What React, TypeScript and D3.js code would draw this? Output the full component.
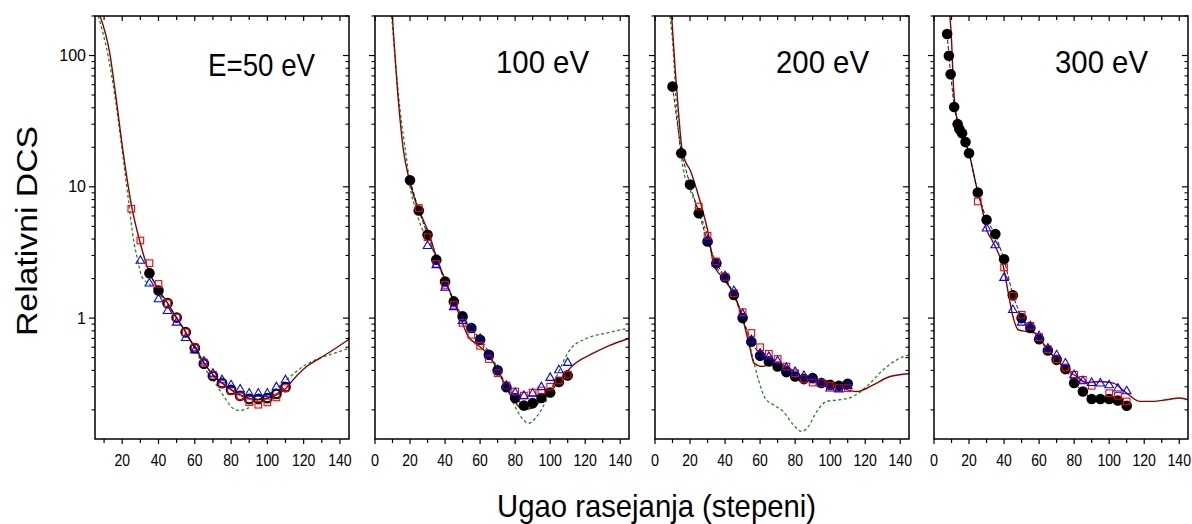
import React from 'react';
import * as d3 from 'd3';

type P = [number, number];

// ---------- data ----------
const panelLabels = ['E=50 eV', '100 eV', '200 eV', '300 eV'];
const xDomains: P[] = [[5, 145], [0, 145], [0, 145], [0, 145]];
const xTickValuesFirst = [10, 20, 30, 40, 50, 60, 70, 80, 90, 100, 110, 120, 130, 140];
const xTickValuesOther = [0, 10, 20, 30, 40, 50, 60, 70, 80, 90, 100, 110, 120, 130, 140];
const xLabelValuesFirst = [20, 40, 60, 80, 100, 120, 140];
const xLabelValuesOther = [0, 20, 40, 60, 80, 100, 120, 140];
const yDomain: P = [0.12, 200];
const yMajorTicks = [1, 10, 100];
const yTickLabels = ['1', '10', '100'];
const xTitle = 'Ugao rasejanja (stepeni)';
const yTitle = 'Relativni DCS';

// 50 eV
const e50Circles: P[] = [[35, 2.2], [40, 1.62], [45, 1.3], [50, 1.01], [55, 0.78], [60, 0.59], [65, 0.45], [70, 0.363], [75, 0.32], [80, 0.284], [85, 0.256], [90, 0.242], [95, 0.242], [100, 0.246], [105, 0.265], [110, 0.298]];
const e50Squares: P[] = [[25, 6.8], [30, 3.9], [35, 2.62], [40, 1.82], [45, 1.3], [50, 1.01], [55, 0.78], [60, 0.6], [65, 0.46], [70, 0.37], [75, 0.316], [80, 0.279], [85, 0.253], [90, 0.229], [95, 0.219], [100, 0.228], [105, 0.249], [110, 0.293]];
const e50Triangles: P[] = [[30, 2.75], [35, 1.85], [40, 1.4], [45, 1.14], [50, 0.93], [55, 0.71], [60, 0.57], [65, 0.47], [70, 0.38], [75, 0.339], [80, 0.31], [85, 0.288], [90, 0.268], [95, 0.268], [100, 0.268], [105, 0.3], [110, 0.339]];
const e50Solid: P[] = [[7.8, 200], [13.3, 101], [16, 55], [20.6, 18], [25.2, 7.1], [29.8, 3.8], [34.5, 2.3], [40, 1.65], [45, 1.3], [50, 1.0], [55, 0.78], [60, 0.6], [65, 0.46], [70, 0.37], [75, 0.32], [80, 0.285], [85, 0.26], [90, 0.245], [95, 0.24], [100, 0.245], [105, 0.26], [110, 0.29], [114.3, 0.34], [121, 0.42], [129, 0.496], [136.4, 0.574], [145, 0.69]];
const e50Dashed: P[] = [[6.8, 200], [12.3, 98], [16, 48.7], [19.7, 20.3], [23.4, 8], [26.3, 3.9], [28.1, 2.94], [30.8, 2.07], [35.4, 1.8], [40, 1.55], [45, 1.27], [50, 1.0], [55, 0.77], [60, 0.59], [64.3, 0.44], [70, 0.34], [75.5, 0.26], [81, 0.206], [84.7, 0.198], [89.3, 0.206], [93.9, 0.232], [101.6, 0.268], [110.7, 0.34], [119.9, 0.43], [129, 0.496], [137, 0.54], [145, 0.59]];

// 100 eV
const e100Circles: P[] = [[20, 11.2], [25, 6.6], [30, 4.31], [35, 2.78], [40, 1.9], [45, 1.34], [50, 1.03], [55, 0.84], [60, 0.684], [65, 0.525], [70, 0.4], [75, 0.298], [80, 0.246], [85, 0.216], [90, 0.225], [95, 0.246], [100, 0.271], [105, 0.326], [110, 0.366]];
const e100Squares: P[] = [[25, 6.9], [30, 4.14], [35, 2.59], [40, 1.79], [45, 1.26], [50, 0.92], [55, 0.746], [60, 0.615], [65, 0.488], [70, 0.381], [75, 0.307], [80, 0.276], [85, 0.257], [90, 0.271], [95, 0.281], [100, 0.3], [105, 0.335], [110, 0.37]];
const e100Triangles: P[] = [[30, 3.57], [35, 2.55], [40, 1.72], [45, 1.22], [50, 0.96], [55, 0.84], [60, 0.7], [65, 0.525], [70, 0.404], [75, 0.307], [80, 0.271], [85, 0.257], [90, 0.268], [95, 0.3], [100, 0.353], [105, 0.404], [110, 0.459]];
const e100Solid: P[] = [[9.9, 200], [13.3, 46], [16.2, 19.1], [19.6, 11.3], [22.8, 7.96], [26.7, 5.94], [31.4, 4.18], [35.2, 2.86], [40, 1.96], [45.1, 1.34], [48.5, 1.03], [53.3, 0.72], [57.1, 0.645], [60.9, 0.59], [64.7, 0.525], [69.5, 0.416], [74.2, 0.31], [79, 0.239], [84.7, 0.2], [89.4, 0.206], [95.1, 0.239], [100, 0.276], [105.7, 0.34], [113.2, 0.44], [124.6, 0.54], [134, 0.62], [145, 0.7]];
const e100Dashed: P[] = [[9.5, 200], [14.3, 38.5], [18.1, 16], [20, 10], [22.8, 7.08], [26.7, 4.85], [30, 4.1], [32.4, 3.7], [34.8, 2.95], [40, 1.96], [48.5, 1.06], [54, 0.85], [60, 0.7], [67.5, 0.48], [73.3, 0.34], [79, 0.225], [84.7, 0.168], [87.5, 0.158], [92.3, 0.178], [98, 0.239], [103.7, 0.36], [111.3, 0.574], [120.8, 0.7], [132.2, 0.77], [145, 0.84]];

// 200 eV
const e200Circles: P[] = [[10, 58], [15, 18], [20, 10.4], [25, 6.3], [30, 3.83], [35, 2.62], [40, 2.04], [45, 1.5], [50, 1.0], [55, 0.66], [60, 0.516], [65, 0.468], [70, 0.428], [75, 0.388], [80, 0.359], [85, 0.343], [90, 0.349], [95, 0.32], [100, 0.31], [105, 0.305], [110, 0.316]];
const e200Squares: P[] = [[25, 7.08], [30, 4.24], [35, 2.7], [40, 2.06], [45, 1.55], [50, 1.11], [55, 0.77], [60, 0.6], [65, 0.535], [70, 0.488], [75, 0.428], [80, 0.38], [85, 0.343], [90, 0.323], [95, 0.32], [100, 0.306], [105, 0.293], [110, 0.293]];
const e200Triangles: P[] = [[30, 3.95], [35, 2.62], [40, 2.1], [45, 1.62], [50, 1.08], [55, 0.684], [60, 0.54], [65, 0.51], [70, 0.473], [75, 0.42], [80, 0.392], [85, 0.365], [90, 0.349], [95, 0.32], [100, 0.293], [105, 0.288], [110, 0.306]];
const e200Solid: P[] = [[9.5, 200], [11.4, 82.5], [13.3, 38.6], [15.2, 20.3], [17, 16], [20, 13.5], [23.8, 9.5], [27.6, 6.3], [30.4, 4.44], [33.3, 2.62], [37.1, 2.14], [40.9, 1.85], [44.7, 1.55], [49.2, 1.09], [54, 0.61], [56.5, 0.454], [60.9, 0.428], [67.5, 0.454], [75.2, 0.428], [82.8, 0.359], [90.4, 0.339], [99.9, 0.329], [107.5, 0.293], [115.1, 0.276], [124.6, 0.31], [134.1, 0.359], [145, 0.377]];
const e200Dashed: P[] = [[8.6, 200], [10.4, 110], [12, 46], [13.9, 22.8], [16.2, 13.5], [20, 9.5], [24.7, 6.7], [29.5, 4.44], [34.2, 2.62], [40, 2.02], [44.7, 1.55], [50.4, 0.97], [55.2, 0.54], [59, 0.34], [62.8, 0.246], [67.5, 0.219], [73.3, 0.194], [79, 0.154], [83.8, 0.137], [87.5, 0.149], [92.3, 0.194], [98, 0.232], [105.6, 0.239], [113.2, 0.253], [120.8, 0.301], [130.3, 0.404], [137.9, 0.48], [145, 0.525]];

// 300 eV
const e300Circles: P[] = [[7.5, 146], [8.5, 99.5], [9.5, 72], [11.5, 40.5], [13.5, 30], [14.5, 27.5], [16, 25.6], [18, 21.9], [20, 18], [25, 9.05], [30, 5.6], [35, 4.37], [40, 2.81], [45, 1.49], [50, 1.0], [55, 0.84], [60, 0.69], [65, 0.567], [70, 0.481], [75, 0.409], [80, 0.32], [85, 0.276], [90, 0.242], [95, 0.242], [100, 0.242], [105, 0.236], [110, 0.215]];
const e300Squares: P[] = [[25, 7.73], [40, 2.43], [45, 1.48], [50, 1.06], [55, 0.874], [60, 0.716], [65, 0.58], [70, 0.487], [75, 0.42], [80, 0.37], [85, 0.339], [90, 0.305], [100, 0.268], [105, 0.256], [110, 0.232]];
const e300Triangles: P[] = [[30, 4.85], [35, 3.61], [40, 2.04], [45, 1.16], [50, 0.93], [55, 0.874], [60, 0.733], [65, 0.59], [70, 0.525], [75, 0.454], [80, 0.37], [85, 0.333], [90, 0.323], [95, 0.32], [100, 0.31], [105, 0.293], [110, 0.279]];
const e300Solid: P[] = [[9.1, 200], [10.1, 124], [11, 61.6], [12, 40.9], [13.9, 30.5], [16.8, 24.2], [20.5, 17], [24.3, 10], [27.2, 7.08], [30.1, 4.7], [33, 3.95], [36.7, 3.13], [39.6, 2.47], [42.4, 1.55], [45.3, 1.0], [48.1, 0.815], [52.9, 0.79], [57.6, 0.77], [64.3, 0.59], [70, 0.481], [75.7, 0.404], [81.4, 0.359], [87.1, 0.323], [94.8, 0.329], [102.4, 0.32], [110, 0.268], [117.6, 0.232], [125.2, 0.232], [132.8, 0.239], [140.4, 0.246], [145, 0.239]];
const e300Dashed: P[] = [];

// ---------- layout ----------
const W = 1192;
const H = 524;
const panelLeft = [95, 375, 655, 934];
const panelW = 254;
const top = 16;
const bottom = 439;
const labelEnd = [315, 589, 869, 1148];
const labelWidth = [107, 93, 93, 93];
const labelBase = [76, 73, 73, 73];

const FONT = "'Liberation Sans', Arial, Helvetica, sans-serif";
const SOLID = '#8b0000';
const GREEN = '#1f8a1f';

const series = [
  { circles: e50Circles, squares: e50Squares, triangles: e50Triangles, solid: e50Solid, dashed: e50Dashed },
  { circles: e100Circles, squares: e100Squares, triangles: e100Triangles, solid: e100Solid, dashed: e100Dashed },
  { circles: e200Circles, squares: e200Squares, triangles: e200Triangles, solid: e200Solid, dashed: e200Dashed },
  { circles: e300Circles, squares: e300Squares, triangles: e300Triangles, solid: e300Solid, dashed: e300Dashed },
];

const y = d3.scaleLog().domain(yDomain).range([bottom, top]);
const yMinor: number[] = [];
[0.1, 1, 10, 100].forEach((d) => {
  for (let k = 2; k <= 9; k++) {
    const v = d * k;
    if (v >= yDomain[0] && v <= yDomain[1]) yMinor.push(v);
  }
});

function Panel({ i }: { i: number }) {
  const left = panelLeft[i];
  const right = left + panelW;
  const x = d3.scaleLinear().domain(xDomains[i]).range([left, right]);
  const s = series[i];
  const line = d3
    .line<P>()
    .x((d) => x(d[0]))
    .y((d) => y(d[1]))
    .curve(d3.curveMonotoneX);
  const ticks = i === 0 ? xTickValuesFirst : xTickValuesOther;
  const labels = i === 0 ? xLabelValuesFirst : xLabelValuesOther;
  const clipId = `clip${i}`;
  return (
    <g>
      <defs>
        <clipPath id={clipId}>
          <rect x={left} y={top} width={panelW} height={bottom - top} />
        </clipPath>
      </defs>
      <g clipPath={`url(#${clipId})`}>
        {s.dashed.length > 0 && (
          <path d={line(s.dashed) || ''} fill="none" stroke={GREEN} strokeWidth={1.3} strokeDasharray="3,2.5" />
        )}
        <path d={line(s.solid) || ''} fill="none" stroke={SOLID} strokeWidth={1.4} />
        <path
          d={d3.line<P>().x((d) => x(d[0])).y((d) => y(d[1]))(s.circles) || ''}
          fill="none"
          stroke="#000"
          strokeWidth={0.9}
          strokeDasharray="4,2"
        />
        {s.circles.map((d, k) => {
          const ring = i === 0 && d[0] >= 45;
          return ring ? (
            <circle key={'c' + k} cx={x(d[0])} cy={y(d[1])} r={4.3} fill="none" stroke="#000" strokeWidth={2.2} />
          ) : (
            <circle key={'c' + k} cx={x(d[0])} cy={y(d[1])} r={5.3} fill="#000" />
          );
        })}
        {s.squares.map((d, k) => (
          <rect key={'s' + k} x={x(d[0]) - 3.3} y={y(d[1]) - 3.3} width={6.6} height={6.6} fill="none" stroke="#ff0000" strokeWidth={1.1} />
        ))}
        {s.triangles.map((d, k) => {
          const cx = x(d[0]);
          const cy = y(d[1]);
          return (
            <path
              key={'t' + k}
              d={`M${cx},${cy - 4.6}L${cx + 4.3},${cy + 2.9}L${cx - 4.3},${cy + 2.9}Z`}
              fill="none"
              stroke="#0000ff"
              strokeWidth={1.1}
            />
          );
        })}
      </g>
      <rect x={left} y={top} width={panelW} height={bottom - top} fill="none" stroke="#000" strokeWidth={1.5} />
      {ticks.map((t) => {
        const major = t % 20 === 0;
        const len = major ? 5 : 4;
        return (
          <g key={'xt' + t}>
            <line x1={x(t)} x2={x(t)} y1={bottom} y2={bottom + len} stroke="#000" strokeWidth={1.2} />
            <line x1={x(t)} x2={x(t)} y1={top} y2={top + len} stroke="#000" strokeWidth={1.2} />
          </g>
        );
      })}
      {labels.map((t) => (
        <text
          key={'xl' + t}
          x={x(t)}
          y={466}
          textAnchor="middle"
          fontFamily={FONT}
          fontSize={16}
          textLength={t >= 100 ? 23.5 : t === 0 ? 8 : 15.5}
          lengthAdjust="spacingAndGlyphs"
        >
          {t}
        </text>
      ))}
      {yMajorTicks.map((v) => (
        <g key={'ym' + v}>
          <line x1={left - 6} x2={left} y1={y(v)} y2={y(v)} stroke="#000" strokeWidth={1.2} />
          <line x1={right - 6} x2={right} y1={y(v)} y2={y(v)} stroke="#000" strokeWidth={1.2} />
        </g>
      ))}
      {yMinor.map((v) => (
        <g key={'yn' + v}>
          <line x1={left - 3.5} x2={left} y1={y(v)} y2={y(v)} stroke="#000" strokeWidth={1.1} />
          <line x1={right - 3.5} x2={right} y1={y(v)} y2={y(v)} stroke="#000" strokeWidth={1.1} />
        </g>
      ))}
      {i === 0 &&
        yMajorTicks.map((v, k) => (
          <text key={'yl' + v} x={left - 9} y={y(v) + 5.5} textAnchor="end" fontFamily={FONT} fontSize={16}>
            {yTickLabels[k]}
          </text>
        ))}
      <text
        x={labelEnd[i] - labelWidth[i]}
        y={labelBase[i]}
        fontFamily={FONT}
        fontSize={32}
        textLength={labelWidth[i]}
        lengthAdjust="spacingAndGlyphs"
      >
        {panelLabels[i]}
      </text>
    </g>
  );
}

export default function App() {
  return (
    <svg
      width={W}
      height={H}
      viewBox={`0 0 ${W} ${H}`}
      style={{ position: 'absolute', left: 0, top: 0, background: '#fff' }}
    >
      <rect x={0} y={0} width={W} height={H} fill="#fff" />
      {[0, 1, 2, 3].map((i) => (
        <Panel key={i} i={i} />
      ))}
      <text x={497} y={517} fontFamily={FONT} fontSize={32} textLength={319} lengthAdjust="spacingAndGlyphs">
        {xTitle}
      </text>
      <text
        transform="translate(37,231) rotate(-90)"
        textAnchor="middle"
        fontFamily={FONT}
        fontSize={29}
        textLength={210}
        lengthAdjust="spacingAndGlyphs"
      >
        {yTitle}
      </text>
    </svg>
  );
}
